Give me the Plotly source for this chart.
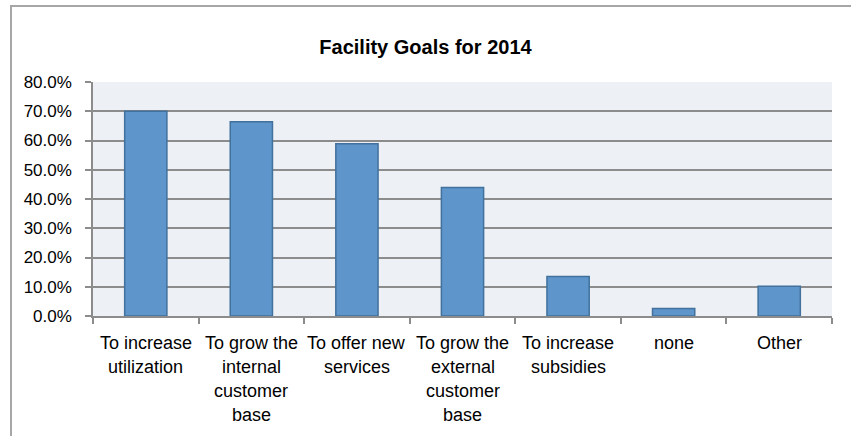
import plotly.graph_objects as go

# ---- data ----
categories = [
    "To increase<br>utilization",
    "To grow the<br>internal<br>customer<br>base",
    "To offer new<br>services",
    "To grow the<br>external<br>customer<br>base",
    "To increase<br>subsidies",
    "none",
    "Other",
]
values = [70.0, 66.4, 58.9, 43.9, 13.5, 2.6, 10.2]
title_text = "Facility Goals for 2014"
y_ticks = [0, 10, 20, 30, 40, 50, 60, 70, 80]
y_tick_labels = [f"{v:.1f}%" for v in y_ticks]

# ---- layout geometry ----
W, H = 851, 436
ML, MR, MT, MB = 93, 19, 82, 120
PW = W - ML - MR
PH = H - MT - MB
FONT = "Liberation Sans, Arial, sans-serif"

fig = go.Figure()
fig.add_trace(go.Bar(
    x=list(range(len(categories))),
    y=values,
    width=0.4,
    marker=dict(color="#5E95CB", line=dict(color="#41719C", width=1.5)),
    hoverinfo="y",
))

# category labels as per-line annotations (to mimic Excel line spacing)
annotations = []
for i, lab in enumerate(categories):
    for j, line in enumerate(lab.split("<br>")):
        annotations.append(dict(
            x=i, y=0, xref="x", yref="paper",
            text=line, showarrow=False,
            xanchor="center", yanchor="middle",
            yshift=-27 - 24 * j,
            font=dict(family=FONT, size=18, color="#000000"),
        ))

# outer chart frame (left and top edges visible)
x0 = (11 - ML) / PW
y1 = (H - MB - 6) / PH
shapes = [
    dict(type="rect", xref="paper", yref="paper",
         x0=x0, x1=1.5, y0=-1.0, y1=y1,
         line=dict(color="#A6A6A6", width=2), fillcolor="rgba(0,0,0,0)", layer="below"),
]

fig.update_layout(
    width=W, height=H,
    margin=dict(l=ML, r=MR, t=MT, b=MB, autoexpand=False),
    paper_bgcolor="#FFFFFF",
    plot_bgcolor="#EDF0F5",
    showlegend=False,
    title=dict(text="<b>" + title_text + "</b>", x=0.5, xref="container", xanchor="center",
               y=1 - 47 / H, yref="container", yanchor="middle",
               font=dict(family=FONT, size=20, color="#000000")),
    font=dict(family=FONT, size=17, color="#000000"),
    xaxis=dict(
        type="linear", range=[-0.5, len(categories) - 0.5],
        tickmode="array",
        tickvals=[i - 0.5 for i in range(len(categories) + 1)],
        ticktext=["" for _ in range(len(categories) + 1)],
        ticks="outside", ticklen=6, tickcolor="#8C8C8C", tickwidth=1.5,
        showgrid=False, zeroline=False,
        showline=True, linecolor="#8C8C8C", linewidth=1.5,
        fixedrange=True,
    ),
    yaxis=dict(
        range=[0, 80], tickmode="array", tickvals=y_ticks, ticktext=y_tick_labels,
        ticks="outside", ticklen=6, tickcolor="#8C8C8C", tickwidth=1.5,
        showgrid=True, gridcolor="#8C8C8C", gridwidth=1.5,
        zeroline=False,
        showline=True, linecolor="#8C8C8C", linewidth=1.5,
        tickfont=dict(family=FONT, size=17, color="#000000"),
        ticklabelstandoff=10,
        fixedrange=True,
    ),
    annotations=annotations,
    shapes=shapes,
)

fig.write_html("out.html", config={"displayModeBar": False},
               post_script="document.body.style.margin='0';document.body.style.overflow='hidden';")
